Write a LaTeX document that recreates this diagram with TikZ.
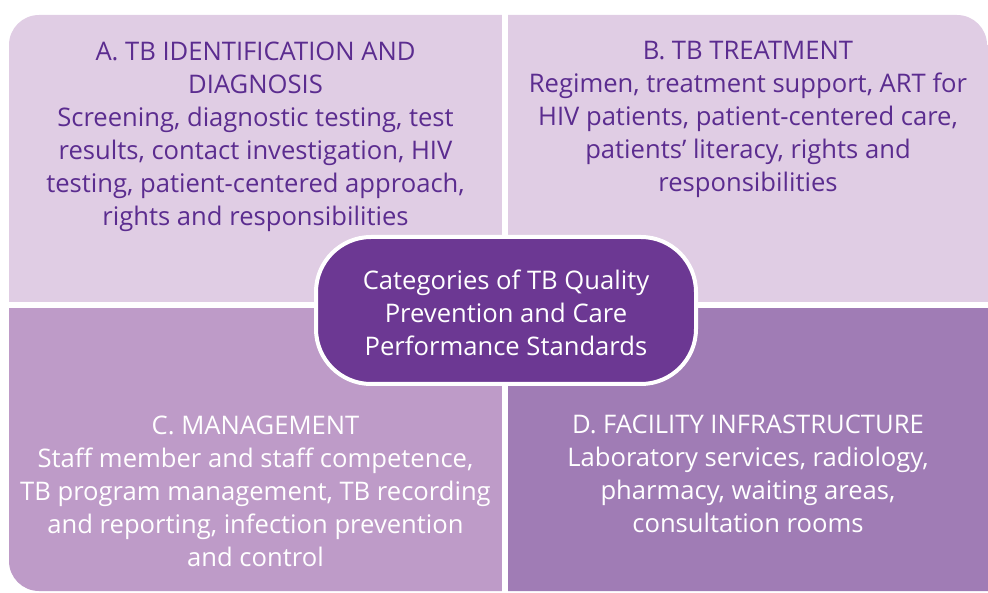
\documentclass[tikz,border=0pt]{standalone}
\usepackage{fontspec}
\setmainfont{Open Sans}
\definecolor{lightq}{HTML}{E0CDE4}
\definecolor{midq}{HTML}{BE9BC8}
\definecolor{darkq}{HTML}{A07CB5}
\definecolor{pillc}{HTML}{6C3893}
\definecolor{txtp}{HTML}{5B2C8F}
\tikzset{
  qtext/.style={align=center, font=\fontsize{25.6}{33}\selectfont, inner sep=0pt},
  toptext/.style={qtext, text=txtp},
  bottext/.style={qtext, text=white},
  pill/.style={draw=white, line width=4pt, fill=pillc, rounded corners=55pt,
    minimum width=380pt, minimum height=147pt, text=white,
    font=\fontsize{25.6}{33}\selectfont}
}
\begin{document}
\begin{tikzpicture}[x=1pt,y=1pt]
\useasboundingbox (0,0) rectangle (988,592);
\begin{scope}
\clip (9,31) arc[start angle=180,end angle=270,radius=30] -- (988,1) -- (988,0) -- (988,547)
  -- (987,547) arc[start angle=0,end angle=90,radius=30] -- (39,577)
  arc[start angle=90,end angle=180,radius=30] -- cycle;
\fill[lightq] (0,290) rectangle (502,600);
\fill[lightq] (508,290) rectangle (1000,600);
\fill[midq] (0,-10) rectangle (502,284);
\fill[darkq] (508,-10) rectangle (1000,284);
\end{scope}
\node[toptext] (a) at (255.5,455.5) {A. TB IDENTIFICATION AND\\DIAGNOSIS\\Screening, diagnostic testing, test\\results, contact investigation, HIV\\testing, patient-centered approach,\\rights and responsibilities};
\node[toptext] (b) at (748,472.5) {B. TB TREATMENT\\Regimen, treatment support, ART for\\HIV patients, patient-centered care,\\patients’ literacy, rights and\\responsibilities};
\node[bottext] (c) at (255.5,101) {C. MANAGEMENT\\Staff member and staff competence,\\TB program management, TB recording\\and reporting, infection prevention\\and control};
\node[bottext] (d) at (748,118) {D. FACILITY INFRASTRUCTURE\\Laboratory services, radiology,\\pharmacy, waiting areas,\\consultation rooms};
\node[pill] (center) at (506,281.5) {\raisebox{-12pt}[0pt][0pt]{\begin{tabular}{@{}c@{}}Categories of TB Quality\\Prevention and Care\\Performance Standards\end{tabular}}};
\end{tikzpicture}
\end{document}
